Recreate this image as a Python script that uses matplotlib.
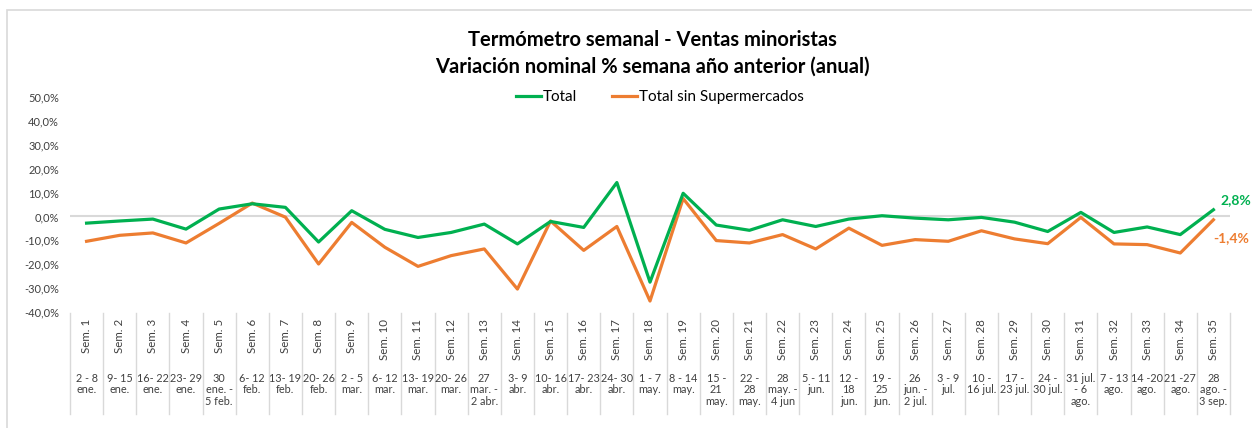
import matplotlib
matplotlib.use("Agg")
import matplotlib.pyplot as plt
import matplotlib.transforms as mtransforms
from matplotlib.patches import Rectangle

plt.rcParams['font.family'] = ['Lato', 'DejaVu Sans']

# data
semanas = ["Sem. %d" % i for i in range(1, 36)]
fechas = ["2 - 8\nene.", "9- 15\nene.", "16- 22\nene.", "23- 29\nene.", "30\nene. -\n5 feb.",
          "6- 12\nfeb.", "13- 19\nfeb.", "20- 26\nfeb.", "2 - 5\nmar.", "6- 12\nmar.",
          "13- 19\nmar.", "20- 26\nmar.", "27\nmar. -\n2 abr.", "3- 9\nabr.", "10- 16\nabr.",
          "17- 23\nabr.", "24- 30\nabr.", "1 - 7\nmay.", "8 - 14\nmay.", "15 -\n21\nmay.",
          "22 -\n28\nmay.", "28\nmay. -\n4 jun", "5 - 11\njun.", "12 -\n18\njun.", "19 -\n25\njun.",
          "26\njun. -\n2 jul.", "3 - 9\njul.", "10 -\n16 jul.", "17 -\n23 jul.", "24 -\n30 jul.",
          "31 jul.\n- 6\nago.", "7 - 13\nago.", "14 -20\nago.", "21 -27\nago.", "28\nago. -\n3 sep."]
total = [-2.8, -1.9, -1.1, -5.3, 3.1, 5.3, 3.8, -10.7, 2.4, -5.4,
         -8.8, -6.7, -3.2, -11.5, -2.1, -4.6, 14.2, -27.5, 9.7, -3.6,
         -5.8, -1.4, -4.2, -1.1, 0.3, -0.7, -1.4, -0.4, -2.4, -6.3,
         1.7, -6.7, -4.4, -7.6, 2.8]
sin_super = [-10.4, -7.9, -6.9, -11.1, -2.9, 5.6, -0.3, -19.9, -2.5, -12.9,
             -20.9, -16.4, -13.6, -30.4, -1.9, -14.2, -4.2, -35.4, 7.5, -10.1,
             -11.1, -7.6, -13.6, -4.9, -12.1, -9.7, -10.4, -6.0, -9.4, -11.4,
             -0.4, -11.5, -11.8, -15.3, -1.4]
yticks = [-40, -30, -20, -10, 0, 10, 20, 30, 40, 50]

verde = "#00B050"
naranja = "#ED7D31"
gris = "#D9D9D9"
W, H = 1252, 428

fig = plt.figure(figsize=(W / 100, H / 100), dpi=100)
ax = fig.add_axes([70 / W, 1 - 312 / H, 1160 / W, 215 / H])

# chart border
fig.patches.append(Rectangle((7 / W, -0.1), 1.2, 1.1 - 10 / H, transform=fig.transFigure,
                             fill=False, edgecolor=gris, lw=1.2))

x = list(range(len(semanas)))
ax.axhline(0, color=gris, lw=1.5, zorder=1)
ax.plot(x, total, color=verde, lw=2.3, label="Total", zorder=3)
ax.plot(x, sin_super, color=naranja, lw=2.3, label="Total sin Supermercados", zorder=2)

ax.set_xlim(-0.5, len(semanas) - 0.5)
ax.set_ylim(-40, 50)
ax.set_yticks(yticks)
ax.set_yticklabels([("%.1f%%" % v).replace(".", ",") for v in yticks])
ax.tick_params(axis="y", length=0, pad=8, labelsize=8, colors="#404040")
ax.set_xticks([])
for s in ax.spines.values():
    s.set_visible(False)

# end labels
ax.annotate(("%.1f%%" % total[-1]).replace(".", ","), (x[-1], total[-1]), xytext=(5, 7),
            textcoords="offset points", color=verde, fontweight="bold", fontsize=10,
            va="center", ha="left")
ax.annotate(("%.1f%%" % sin_super[-1]).replace(".", ","), (x[-1], sin_super[-1]), xytext=(0, -13),
            textcoords="offset points", color=naranja, fontweight="bold", fontsize=10,
            va="center", ha="left")

# multi-level category axis
tr = mtransforms.blended_transform_factory(ax.transData, fig.transFigure)
for i in range(len(semanas) + 1):
    ax.plot([i - 0.5, i - 0.5], [1 - 313 / H, 1 - 414 / H], color=gris, lw=1,
            transform=tr, clip_on=False)
for i, (s, f) in enumerate(zip(semanas, fechas)):
    ax.text(i, 1 - 319 / H, s, rotation=90, ha="center", va="top", fontsize=8.3,
            color="#404040", transform=tr)
    ax.text(i, 1 - 373 / H, f, ha="center", va="top", fontsize=7.8, color="#404040",
            linespacing=1.05, multialignment="center", transform=tr)

fig.text(652 / W, 1 - 40 / H, "Termómetro semanal - Ventas minoristas", ha="center",
         va="center", fontsize=14.5, fontweight="bold")
fig.text(652 / W, 1 - 67 / H, "Variación nominal % semana año anterior (anual)", ha="center",
         va="center", fontsize=14.5, fontweight="bold")

fig.legend(loc="center", bbox_to_anchor=(660 / W, 1 - 97 / H), ncol=2, frameon=False,
           fontsize=11, handlelength=1.6, handletextpad=0.15, columnspacing=2.3)

fig.savefig("out.png", dpi=100)
